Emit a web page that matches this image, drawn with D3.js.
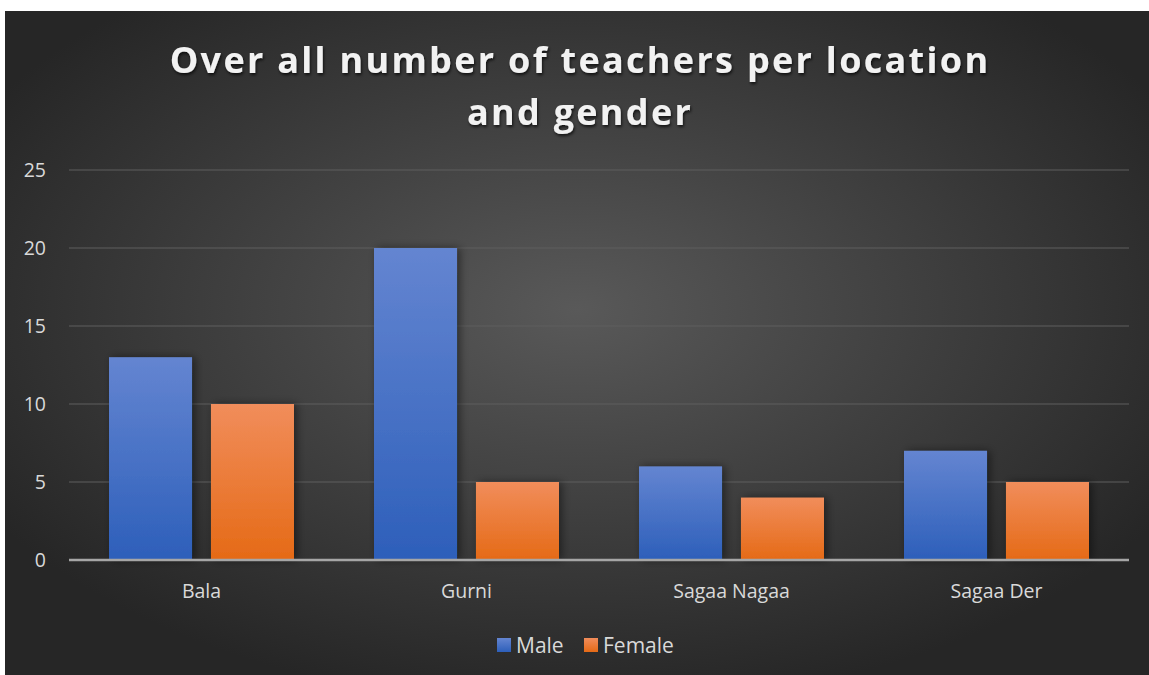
<!DOCTYPE html>
<html>
<head>
<meta charset="utf-8">
<script src="https://d3js.org/d3.v7.min.js"></script>
<style>
  html, body { margin: 0; padding: 0; background: #ffffff; }
  svg { display: block; }
  .tick text { fill: #d9d9d9; }
</style>
</head>
<body>
<svg class="chart" width="1149" height="675"></svg>
<script>
// chart data
const locations = ["Bala", "Gurni", "Sagaa Nagaa", "Sagaa Der"];
const seriesNames = ["Male", "Female"];
const maleValues = [13, 20, 6, 7];
const femaleValues = [10, 5, 4, 5];
const yTicks = [0, 5, 10, 15, 20, 25];

const titleLines = ["Over all number of teachers per location", "and gender"];

let svg = d3.select(".chart");
let defs = svg.append("defs");

// background gradient (lighter in the middle, dark at the edges)
let bg = defs.append("radialGradient").attr("id", "bg")
    .attr("cx", "50%").attr("cy", "45%").attr("r", "60%");
bg.append("stop").attr("offset", "0%").attr("stop-color", "#595959");
bg.append("stop").attr("offset", "100%").attr("stop-color", "#262626");

function barGrad(id, c1, c2) {
    let g = defs.append("linearGradient").attr("id", id)
        .attr("x1", 0).attr("y1", 0).attr("x2", 0).attr("y2", 1);
    g.append("stop").attr("offset", "0%").attr("stop-color", c1);
    g.append("stop").attr("offset", "100%").attr("stop-color", c2);
}
barGrad("gMale", "#6485d1", "#2d5fba");
barGrad("gFemale", "#f18d5b", "#e56a16");

let shadow = defs.append("filter").attr("id", "shadow")
    .attr("x", "-20%").attr("y", "-10%").attr("width", "150%").attr("height", "120%");
shadow.append("feDropShadow").attr("dx", 3).attr("dy", 0).attr("stdDeviation", 4)
    .attr("flood-color", "#000").attr("flood-opacity", 0.45);

let tshadow = defs.append("filter").attr("id", "tshadow");
tshadow.append("feDropShadow").attr("dx", 1).attr("dy", 2).attr("stdDeviation", 1.5)
    .attr("flood-color", "#000").attr("flood-opacity", 0.7);

svg.append("rect").attr("x", 5).attr("y", 11).attr("width", 1144).attr("height", 664)
    .attr("fill", "url(#bg)");

let plotLeft = 69, plotRight = 1129, plotTop = 170, plotBottom = 560;

let xs = d3.scaleBand().domain(locations).range([plotLeft, plotRight]);
let xInner = d3.scaleBand().domain(seriesNames).range([40, xs.bandwidth() - 40]).paddingInner(0.186);
let ys = d3.scaleLinear().domain([0, 25]).range([plotBottom, plotTop]);

// gridlines
svg.append("g").selectAll("line")
    .data(yTicks.slice(1))
    .join("line")
    .attr("x1", plotLeft).attr("x2", plotRight)
    .attr("y1", d => ys(d)).attr("y2", d => ys(d))
    .attr("stroke", "#5e5e5e").attr("stroke-width", 1.2);

// y axis labels
let yAxis = d3.axisLeft(ys).tickValues(yTicks).tickSize(0).tickPadding(0);
svg.append("g").attr("transform", "translate(46,0)")
    .style("font-family", "'Open Sans', sans-serif").style("font-size", "19.5px")
    .call(yAxis)
    .call(g => g.select(".domain").remove());

// bars
let colors = { Male: "url(#gMale)", Female: "url(#gFemale)" };
let rows = locations.map((loc, i) => ({ loc, vals: [maleValues[i], femaleValues[i]] }));

let groups = svg.append("g").selectAll("g")
    .data(rows).join("g")
    .attr("transform", d => "translate(" + xs(d.loc) + ",0)");

groups.selectAll("rect")
    .data(d => d.vals.map((v, j) => ({ name: seriesNames[j], v })))
    .join("rect")
    .attr("x", d => xInner(d.name))
    .attr("width", xInner.bandwidth())
    .attr("y", d => ys(d.v))
    .attr("height", d => ys(0) - ys(d.v))
    .attr("fill", d => colors[d.name])
    .attr("filter", "url(#shadow)");

// x axis baseline and labels
let xAxis = d3.axisBottom(xs).tickSize(0).tickPadding(24);
svg.append("g").attr("transform", "translate(0," + plotBottom + ")")
    .style("font-family", "'Open Sans', sans-serif").style("font-size", "19.5px")
    .call(xAxis)
    .call(g => g.select(".domain").attr("stroke", "#a6a6a6").attr("stroke-width", 2.5)
        .attr("d", "M" + plotLeft + ",0H" + plotRight));

// title
svg.append("g").selectAll("text")
    .data(titleLines).join("text")
    .attr("x", 580).attr("y", (d, i) => 73 + i * 52)
    .attr("text-anchor", "middle")
    .attr("fill", "#f2f2f2")
    .attr("filter", "url(#tshadow)")
    .style("font-family", "'Open Sans', sans-serif")
    .style("font-weight", "bold")
    .style("font-size", "36px")
    .style("letter-spacing", "2.3px")
    .text(d => d);

// legend
let legend = svg.append("g").attr("transform", "translate(497,645)");
let legendX = [0, 87];
seriesNames.forEach((name, i) => {
    let item = legend.append("g").attr("transform", "translate(" + legendX[i] + ",0)");
    item.append("rect").attr("x", 0).attr("y", -7).attr("width", 14).attr("height", 14)
        .attr("fill", colors[name]);
    item.append("text").attr("x", 19).attr("y", 7.5)
        .attr("fill", "#d9d9d9")
        .style("font-family", "'Open Sans', sans-serif").style("font-size", "21px")
        .text(name);
});
</script>
</body>
</html>
